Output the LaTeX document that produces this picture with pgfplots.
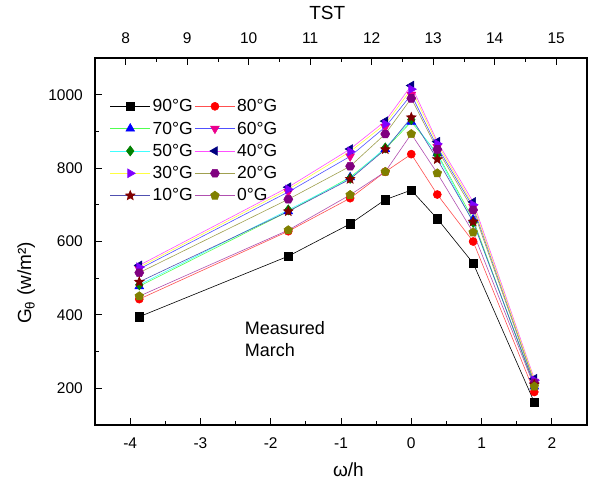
\documentclass[border=0pt]{standalone}
\usepackage{pgfplots}
\usepackage{pgfplotstable}
\pgfplotsset{compat=1.18}
\usepackage{fontspec}
\setmainfont{Liberation Sans}
\usetikzlibrary{plotmarks}

\pgfdeclareplotmark{fstar}{%
  \pgfpathmoveto{\pgfpointpolar{90}{\pgfplotmarksize}}%
  \pgfpathlineto{\pgfpointpolar{126}{0.45\pgfplotmarksize}}%
  \pgfpathlineto{\pgfpointpolar{162}{\pgfplotmarksize}}%
  \pgfpathlineto{\pgfpointpolar{198}{0.45\pgfplotmarksize}}%
  \pgfpathlineto{\pgfpointpolar{234}{\pgfplotmarksize}}%
  \pgfpathlineto{\pgfpointpolar{270}{0.45\pgfplotmarksize}}%
  \pgfpathlineto{\pgfpointpolar{306}{\pgfplotmarksize}}%
  \pgfpathlineto{\pgfpointpolar{342}{0.45\pgfplotmarksize}}%
  \pgfpathlineto{\pgfpointpolar{18}{\pgfplotmarksize}}%
  \pgfpathlineto{\pgfpointpolar{54}{0.45\pgfplotmarksize}}%
  \pgfpathclose\pgfusepathqfillstroke}
\pgfdeclareplotmark{hexa}{%
  \pgfpathmoveto{\pgfpointpolar{0}{\pgfplotmarksize}}%
  \pgfpathlineto{\pgfpointpolar{60}{\pgfplotmarksize}}%
  \pgfpathlineto{\pgfpointpolar{120}{\pgfplotmarksize}}%
  \pgfpathlineto{\pgfpointpolar{180}{\pgfplotmarksize}}%
  \pgfpathlineto{\pgfpointpolar{240}{\pgfplotmarksize}}%
  \pgfpathlineto{\pgfpointpolar{300}{\pgfplotmarksize}}%
  \pgfpathclose\pgfusepathqfillstroke}

\definecolor{l80}{HTML}{FF5050}
\definecolor{l70}{HTML}{50FF50}
\definecolor{l60}{HTML}{5050FF}
\definecolor{l50}{HTML}{40FFFF}
\definecolor{l40}{HTML}{FF50FF}
\definecolor{l30}{HTML}{FFFF40}
\definecolor{l20}{HTML}{A0A050}
\definecolor{l10}{HTML}{5050B0}
\definecolor{l0}{HTML}{B050B0}
\definecolor{m50}{HTML}{008000}
\definecolor{m40}{HTML}{000080}
\definecolor{m30}{HTML}{8000FF}
\definecolor{m20}{HTML}{800080}
\definecolor{m10}{HTML}{800000}
\definecolor{m0}{HTML}{808000}

\pgfplotstableread{
x      s90  s80  s70  s60  s50  s40  s30  s20  s10  s0
-3.87  395  443  478  525  482  535  530  515  490  451
-1.75  560  628  682  735  686  748  742  715  682  631
-0.87  648  718  775  832  772  852  845  805  770  727
-0.37  714  790  852  912  855  928  920  893  851  790
0      740  838  926  1000 932  1025 1015 990  938  893
0.37   662  728  840  858  836  872  866  851  824  786
0.88   541  600  660  694  652  708  700  686  654  625
1.75   162  190  205  218  212  226  222  215  210  205
}\data

\begin{document}
\begin{tikzpicture}[font=\fontsize{15}{18}\selectfont]
\useasboundingbox (-95pt,-58pt) rectangle (494pt,425pt);
\begin{axis}[at={(0,0)}, anchor=south west, scale only axis,
  width=492pt, height=367pt,
  xmin=-4.5, xmax=2.5, ymin=100, ymax=1100,
  xtick={-4,-3,-2,-1,0,1,2}, minor x tick num=1,
  ytick={200,400,600,800,1000}, minor y tick num=1,
  xtick pos=bottom, ytick pos=left, tick align=inside,
  major tick length=7pt, minor tick length=4pt,
  axis line style={line width=1.1pt},
  every tick/.style={black, line width=0.9pt},
  /pgf/number format/assume math mode=true,
  /pgf/number format/1000 sep={},
  tick label style={font=\fontsize{15.5}{18}\selectfont},
  xticklabel style={anchor=center, inner sep=0pt, yshift=-18pt},
  yticklabel style={anchor=east, inner sep=0pt, xshift=-12pt},
  xlabel={ω/h}, ylabel={G\textsubscript{θ} (w/m²)},
  xlabel style={at={(axis description cs:0.515,0)}, anchor=center, yshift=-45pt, font=\fontsize{19}{22}\selectfont},
  ylabel style={at={(axis description cs:-0.14,0.387)}, anchor=center, rotate=0, font=\fontsize{19}{22}\selectfont},
  legend columns=2, legend cell align=left,
  legend style={at={(0.03,0.893)}, anchor=north west, draw=none, fill=none,
    font=\fontsize{17.5}{21}\selectfont, row sep=4.6pt, inner sep=0pt,
    /tikz/every odd column/.append style={column sep=0pt}},
  legend image code/.code={\draw[mark repeat=2,mark phase=2] plot coordinates {(0pt,0pt) (20pt,0pt) (40pt,0pt)};},
  every axis plot/.append style={line width=0.6pt, mark size=4pt},
]
\addplot[black, mark=square*, mark options={fill=black,draw=black,mark size=4.2pt}] table[x=x,y=s90]{\data};
\addlegendentry{90°G}
\addplot[l80, mark=*, mark options={fill=red,draw=red}] table[x=x,y=s80]{\data};
\addlegendentry{80°G}
\addplot[l70, mark=triangle*, mark options={fill=blue,draw=blue,mark size=5pt}] table[x=x,y=s70]{\data};
\addlegendentry{70°G}
\addplot[l60, mark=triangle*, mark options={fill=magenta,draw=magenta,rotate=180,mark size=5pt}] table[x=x,y=s60]{\data};
\addlegendentry{60°G}
\addplot[l50, mark=diamond*, mark options={fill=m50,draw=m50,mark size=5pt}] table[x=x,y=s50]{\data};
\addlegendentry{50°G}
\addplot[l40, mark=triangle*, mark options={fill=m40,draw=m40,rotate=90,mark size=5pt}] table[x=x,y=s40]{\data};
\addlegendentry{40°G}
\addplot[l30, mark=triangle*, mark options={fill=m30,draw=m30,rotate=-90,mark size=5pt}] table[x=x,y=s30]{\data};
\addlegendentry{30°G}
\addplot[l20, mark=hexa, mark options={fill=m20,draw=m20,mark size=4.5pt}] table[x=x,y=s20]{\data};
\addlegendentry{20°G}
\addplot[l10, mark=fstar, mark options={fill=m10,draw=m10,mark size=5pt}] table[x=x,y=s10]{\data};
\addlegendentry{10°G}
\addplot[l0, mark=pentagon*, mark options={fill=m0,draw=m0,mark size=4.5pt}] table[x=x,y=s0]{\data};
\addlegendentry{0°G}
\node[anchor=west, align=left, font=\fontsize{18}{22}\selectfont, inner sep=0pt] at (axis cs:-2.37,334) {Measured\\March};
\end{axis}
\begin{axis}[at={(0,0)}, anchor=south west, scale only axis,
  width=492pt, height=367pt,
  xmin=7.5, xmax=15.5, ymin=0, ymax=1,
  axis x line*=top, axis y line=none,
  xtick={8,...,15}, minor x tick num=1, tick align=inside,
  major tick length=7pt, minor tick length=4pt,
  axis line style={line width=1.1pt},
  every tick/.style={black, line width=0.9pt},
  /pgf/number format/assume math mode=true,
  tick label style={font=\fontsize{15.5}{18}\selectfont},
  xticklabel style={anchor=center, inner sep=0pt, yshift=20pt},
  xlabel={TST},
  xlabel style={at={(axis description cs:0.472,1)}, anchor=center, yshift=45pt, font=\fontsize{19}{22}\selectfont},
]
\end{axis}
\end{tikzpicture}
\end{document}
